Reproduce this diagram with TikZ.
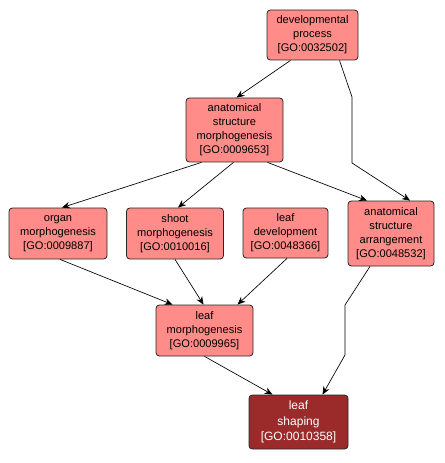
\documentclass[tikz,border=0pt]{standalone}
\usepackage{fontspec}
\setmainfont{Liberation Sans}
\usetikzlibrary{calc,arrows.meta}
\definecolor{gofill}{HTML}{FF8C88}
\definecolor{godark}{HTML}{9B2B2B}
\tikzset{
  goterm/.style={draw=black!85, line width=0.6pt, rounded corners=2.5pt, fill=gofill,
    align=center, inner sep=0pt, font=\fontsize{8.3}{10.5}\selectfont},
  gosel/.style={goterm, fill=godark, text=white, font=\fontsize{9}{11.8}\selectfont},
  rel/.style={draw=black, line width=0.5pt, -{Stealth[length=6pt,width=5pt,inset=2pt]}}
}
\begin{document}
\begin{tikzpicture}[x=0.75pt,y=-0.75pt]
\useasboundingbox (0,0) rectangle (445,463);
\node[goterm, minimum width=68.25pt, minimum height=37.5pt] (dp) at (312.5,35) {developmental\\process\\{}[GO:0032502]};
\node[goterm, minimum width=72.75pt, minimum height=48pt] (asm) at (234.5,130) {anatomical\\structure\\morphogenesis\\{}[GO:0009653]};
\node[goterm, minimum width=73.5pt, minimum height=38.25pt] (om) at (58,233.5) {organ\\morphogenesis\\{}[GO:0009887]};
\node[goterm, minimum width=72.75pt, minimum height=38.25pt] (sm) at (175,233.5) {shoot\\morphogenesis\\{}[GO:0010016]};
\node[goterm, minimum width=63.75pt, minimum height=37.5pt] (ld) at (285.5,233) {leaf\\development\\{}[GO:0048366]};
\node[goterm, minimum width=64.5pt, minimum height=48.75pt] (asa) at (391,233.5) {anatomical\\structure\\arrangement\\{}[GO:0048532]};
\node[goterm, minimum width=72.75pt, minimum height=38.25pt] (lm) at (204.5,330.5) {leaf\\morphogenesis\\{}[GO:0009965]};
\node[gosel, minimum width=74.25pt, minimum height=40.5pt] (ls) at (298.5,422) {leaf\\shaping\\{}[GO:0010358]};

\draw[rel] ($(dp.south)+(-22,0)$) -- ($(asm.north)+(2,0)$);
\draw[rel] ($(dp.south)+(27,0)$) -- (352,97) -- (352,163) -- ($(asa.north)+(19,0)$);
\draw[rel] ($(asm.south)+(33,0)$) -- ($(asa.north)+(-24,0)$);
\draw[rel] ($(asm.south)+(-33,0)$) -- ($(om.north)+(4,0)$);
\draw[rel] ($(asm.south)+(-1,0)$) -- ($(sm.north)+(3,0)$);
\draw[rel] ($(om.south)+(2,0)$) -- ($(lm.north)+(-32,0)$);
\draw[rel] ($(sm.south)+(0,0)$) -- ($(lm.north)+(-1,0)$);
\draw[rel] ($(ld.south)+(1.5,0)$) -- ($(lm.north)+(33,0)$);
\draw[rel] ($(lm.south)+(0,0)$) -- ($(ls.north)+(-26,0)$);
\draw[rel] ($(asa.south)+(-21,0)$) -- (345,305) -- (345,355) -- ($(ls.north)+(24,0)$);
\end{tikzpicture}
\end{document}
